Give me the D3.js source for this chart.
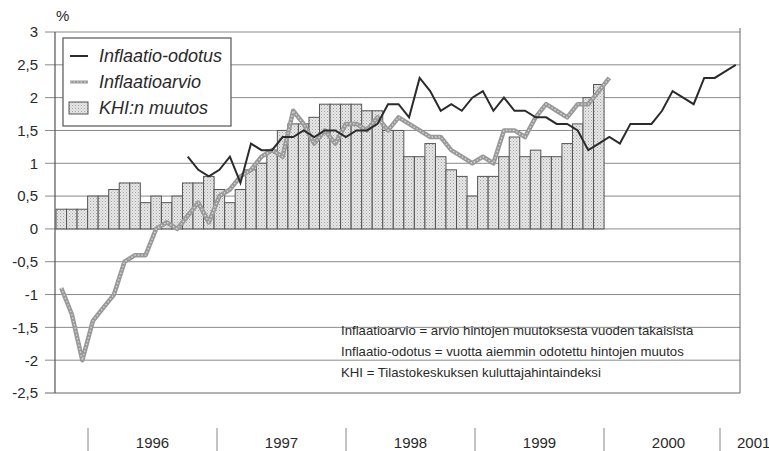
<!DOCTYPE html>
<html>
<head>
<meta charset="utf-8">
<script src="https://cdn.jsdelivr.net/npm/d3@7"></script>
<style>
  html, body { margin: 0; padding: 0; background: #fff; }
  svg { display: block; font-family: "Liberation Sans", Arial, sans-serif; }
</style>
</head>
<body>
<svg id="chart" width="769" height="451"></svg>
<script>
// ---- data (monthly, index 0 = October 1995) ----
const firstMonth = { year: 1995, month: 10 };
const years = [1996, 1997, 1998, 1999, 2000, 2001];
const yTicks = [-2.5, -2, -1.5, -1, -0.5, 0, 0.5, 1, 1.5, 2, 2.5, 3];

// KHI:n muutos (bars), months 0..51
const khi = [0.3,0.3,0.3,0.5,0.5,0.6,0.7,0.7,0.4,0.5,0.4,0.5,
             0.7,0.7,0.8,0.6,0.4,0.6,0.9,1.0,1.2,1.5,1.6,1.6,
             1.7,1.9,1.9,1.9,1.9,1.8,1.8,1.5,1.5,1.1,1.1,1.3,
             1.1,0.9,0.8,0.5,0.8,0.8,1.1,1.4,1.1,1.2,1.1,1.1,
             1.3,1.6,2.0,2.2];

// Inflaatioarvio, months 0..52
const arvio = [-0.9,-1.3,-2.0,-1.4,-1.2,-1.0,-0.5,-0.4,-0.4,0.0,0.1,0.0,
               0.2,0.4,0.1,0.5,0.6,0.8,0.9,1.1,1.2,1.1,1.8,1.6,
               1.3,1.5,1.3,1.6,1.6,1.5,1.7,1.5,1.7,1.6,1.5,1.4,
               1.4,1.2,1.1,1.0,1.1,1.0,1.5,1.5,1.4,1.7,1.9,1.8,
               1.7,1.9,1.9,2.1,2.3];

// Inflaatio-odotus, months 12..64
const odotusStart = 12;
const odotus = [1.1,0.9,0.8,0.9,1.1,0.7,1.3,1.2,1.2,1.4,1.4,1.5,
                1.4,1.5,1.5,1.4,1.5,1.5,1.6,1.9,1.9,1.7,2.3,2.1,
                1.8,1.9,1.8,2.0,2.1,1.8,2.0,1.8,1.8,1.7,1.7,1.6,
                1.6,1.5,1.2,1.3,1.4,1.3,1.6,1.6,1.6,1.8,2.1,2.0,
                1.9,2.3,2.3,2.4,2.5];

const legendLabels = ["Inflaatio-odotus", "Inflaatioarvio", "KHI:n muutos"];
const notes = [
  "Inflaatioarvio = arvio hintojen muutoksesta vuoden takaisista",
  "Inflaatio-odotus = vuotta aiemmin odotettu hintojen muutos",
  "KHI = Tilastokeskuksen kuluttajahintaindeksi"
];

// ---- layout ----
const svg = d3.select("#chart");
const plot = { left: 56, right: 740, top: 32, bottom: 393 };
const nMonths = 65;

const x = d3.scaleLinear().domain([0, nMonths]).range([plot.left, plot.left + nMonths * 10.54]);
const y = d3.scaleLinear().domain([-2.5, 3]).range([plot.bottom, plot.top]);
// separate year axis (as in the original, not tied exactly to the month grid)
const yearX = d3.scaleLinear().domain([1996, 2001]).range([88, 733]);
const sepX = d => d === 2001 ? yearX(d) - 13 : yearX(d);
const fmt = v => String(v).replace(".", ",");

// pattern for stippled bars
const defs = svg.append("defs");
const pat = defs.append("pattern").attr("id", "stip").attr("width", 3).attr("height", 3)
  .attr("patternUnits", "userSpaceOnUse");
pat.append("rect").attr("width", 3).attr("height", 3).attr("fill", "#e6e6e6");
pat.append("rect").attr("x", 0).attr("y", 0).attr("width", 1).attr("height", 1).attr("fill", "#a4a4a4");
pat.append("rect").attr("x", 1.5).attr("y", 1.5).attr("width", 1).attr("height", 1).attr("fill", "#c0c0c0");

// gridlines
svg.append("g").selectAll("line").data(yTicks).join("line")
  .attr("x1", 45).attr("x2", plot.right)
  .attr("y1", d => y(d)).attr("y2", d => y(d))
  .attr("stroke", d => d === -2.5 ? "#666" : "#8a8a8a")
  .attr("stroke-width", 1);

// y axis labels
svg.append("g").selectAll("text").data(yTicks).join("text")
  .attr("x", 38).attr("y", d => y(d)).attr("dy", "0.36em")
  .attr("text-anchor", "end").attr("font-size", 15).attr("fill", "#2a2a2a")
  .text(fmt);

svg.append("text").attr("x", 56).attr("y", 21).attr("font-size", 15).attr("fill", "#2a2a2a").text("%");

// frame
svg.append("line").attr("x1", plot.left - 1).attr("x2", plot.left - 1)
  .attr("y1", plot.top).attr("y2", plot.bottom).attr("stroke", "#555").attr("stroke-width", 1.2);
svg.append("line").attr("x1", plot.right).attr("x2", plot.right)
  .attr("y1", plot.top - 4).attr("y2", plot.bottom).attr("stroke", "#666").attr("stroke-width", 1);

// bars
svg.append("g").selectAll("rect").data(khi).join("rect")
  .attr("x", (d, i) => x(i))
  .attr("width", (d, i) => x(i + 1) - x(i))
  .attr("y", d => y(Math.max(0, d)))
  .attr("height", d => Math.abs(y(d) - y(0)))
  .attr("fill", "url(#stip)")
  .attr("stroke", "#555").attr("stroke-width", 1);

// annotation text
svg.append("g").selectAll("text").data(notes).join("text")
  .attr("x", 341).attr("y", (d, i) => 335 + i * 21)
  .attr("font-size", 13.2).attr("fill", "#2a2a2a")
  .text(d => d);

// Inflaatioarvio line (textured gray)
const lineA = d3.line().x((d, i) => x(i + 0.5)).y(d => y(d));
svg.append("path").datum(arvio).attr("d", lineA)
  .attr("fill", "none").attr("stroke", "#999").attr("stroke-width", 4.5)
  .attr("stroke-linejoin", "round");
svg.append("path").datum(arvio).attr("d", lineA)
  .attr("fill", "none").attr("stroke", "#d8d8d8").attr("stroke-width", 1.3)
  .attr("stroke-dasharray", "1.5 2");

// Inflaatio-odotus line
const lineO = d3.line().x((d, i) => x(i + odotusStart + 0.5)).y(d => y(d));
svg.append("path").datum(odotus).attr("d", lineO)
  .attr("fill", "none").attr("stroke", "#2b2b2b").attr("stroke-width", 2)
  .attr("stroke-linejoin", "miter");

// legend
const lg = svg.append("g");
lg.append("rect").attr("x", 63).attr("y", 38).attr("width", 168).attr("height", 88)
  .attr("fill", "#fff").attr("stroke", "#555").attr("stroke-width", 1.2);
const rowY = [56, 82, 108];
lg.append("line").attr("x1", 70).attr("x2", 88).attr("y1", rowY[0]).attr("y2", rowY[0])
  .attr("stroke", "#2b2b2b").attr("stroke-width", 2);
lg.append("line").attr("x1", 70).attr("x2", 88).attr("y1", rowY[1]).attr("y2", rowY[1])
  .attr("stroke", "#999").attr("stroke-width", 3);
lg.append("line").attr("x1", 70).attr("x2", 88).attr("y1", rowY[1]).attr("y2", rowY[1])
  .attr("stroke", "#d8d8d8").attr("stroke-width", 1).attr("stroke-dasharray", "1.5 2");
lg.append("rect").attr("x", 69).attr("y", rowY[2] - 6).attr("width", 19).attr("height", 12)
  .attr("fill", "url(#stip)").attr("stroke", "#555").attr("stroke-width", 1);
lg.selectAll("text.lbl").data(legendLabels).join("text").attr("class", "lbl")
  .attr("x", 99).attr("y", (d, i) => rowY[i]).attr("dy", "0.36em")
  .attr("font-size", 18).attr("font-style", "italic").attr("fill", "#2a2a2a")
  .text(d => d);

// bottom year axis
svg.append("g").selectAll("line").data(years).join("line")
  .attr("x1", d => sepX(d)).attr("x2", d => sepX(d))
  .attr("y1", 428).attr("y2", 451).attr("stroke", "#888").attr("stroke-width", 1);
svg.append("g").selectAll("text").data(years).join("text")
  .attr("x", d => d === 2001 ? yearX(d) + 4 : yearX(d + 0.5))
  .attr("y", 443).attr("dy", "0.36em")
  .attr("text-anchor", d => d === 2001 ? "start" : "middle")
  .attr("font-size", 15).attr("fill", "#2a2a2a")
  .text(d => d);
</script>
</body>
</html>
